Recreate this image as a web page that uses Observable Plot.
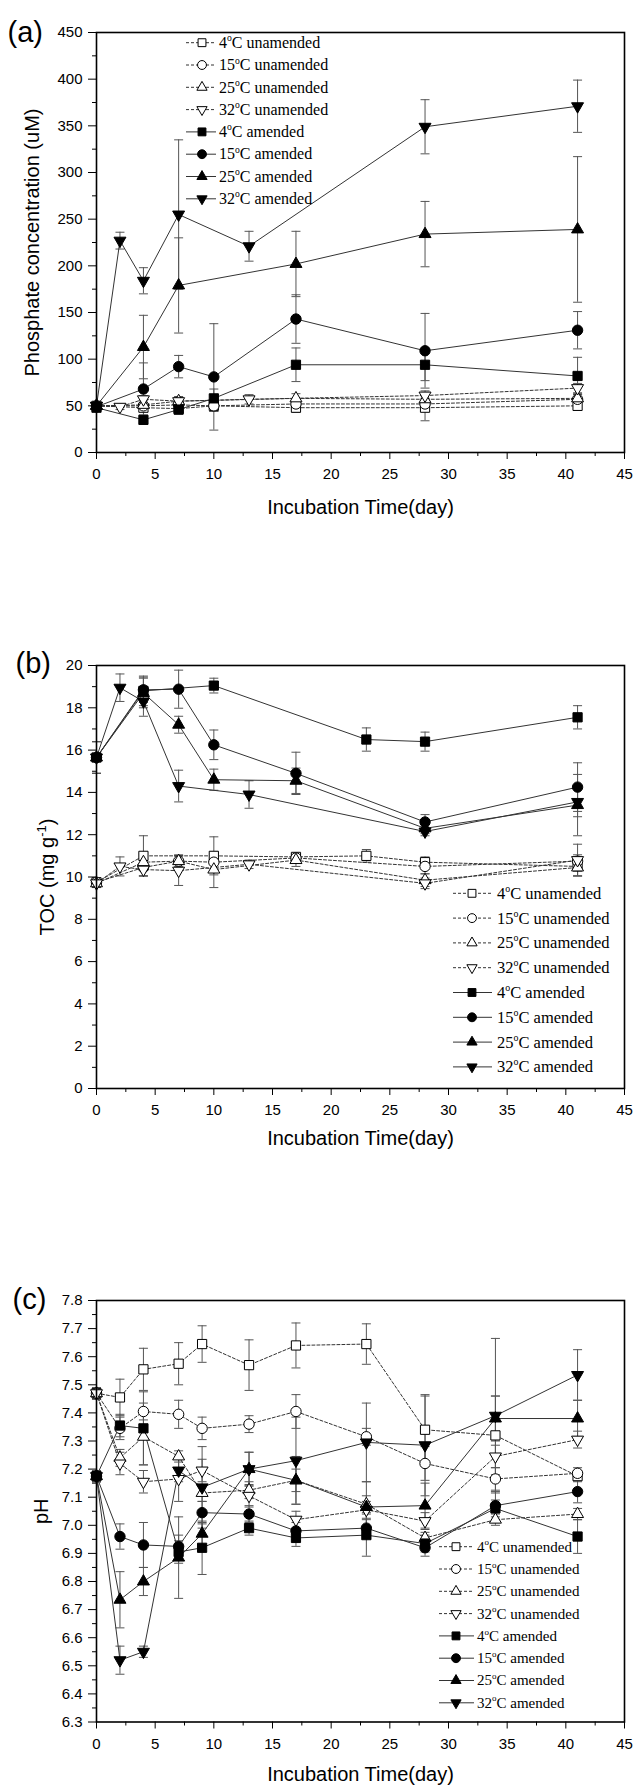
<!DOCTYPE html>
<html><head><meta charset="utf-8">
<script src="https://cdn.jsdelivr.net/npm/d3@7"></script>
<script src="https://cdn.jsdelivr.net/npm/@observablehq/plot@0.6"></script>
<style>
body{margin:0;background:#fff;}
#chart{width:637px;}
#chart svg{display:block;}
</style></head><body><div id="chart"></div>
<script>
// ---------- shared categories & ticks ----------
const seriesNames = ["4°C unamended","15°C unamended","25°C unamended","32°C unamended",
                     "4°C amended","15°C amended","25°C amended","32°C amended"];
const xTicks = [0,5,10,15,20,25,30,35,40,45];
const phosphateTicks = [0,50,100,150,200,250,300,350,400,450];
const tocTicks = [0,2,4,6,8,10,12,14,16,18,20];
const phTicks = [6.3,6.4,6.5,6.6,6.7,6.8,6.9,7.0,7.1,7.2,7.3,7.4,7.5,7.6,7.7,7.8];

// ---------- (a) phosphate (uM) ----------
const phosphateDays = [
  [0,4,7,10,17,28,41],
  [0,4,7,10,17,28,41],
  [0,4,7,17,28,41],
  [0,2,4,7,13,28,41],
  [0,4,7,10,17,28,41],
  [0,4,7,10,17,28,41],
  [0,4,7,17,28,41],
  [0,2,4,7,13,28,41]
];
const phosphateMean = [
  [50,48,47,50,48,48,50],
  [50,50,51,50,52,52,57],
  [50,51,55,58,57,58],
  [50,49,57,55,57,61,69],
  [48,35,46,58,94,94,82],
  [49,68,92,81,143,109,131],
  [50,113,179,202,234,239],
  [50,227,184,255,221,349,371]
];
const phosphateErr = [
  [3,4,4,6,5,14,5],
  [3,4,4,6,4,6,5],
  [3,5,5,5,6,5],
  [3,3,4,4,5,5,5],
  [3,5,5,10,18,17,20],
  [3,28,12,57,26,40,20],
  [3,34,51,35,35,78],
  [3,9,14,80,16,29,28]
];

// ---------- (b) TOC (mg/g) ----------
const tocDays = [
  [0,4,10,17,23,28,41],
  [0,4,7,10,17,28,41],
  [0,4,7,10,17,28,41],
  [0,2,4,7,13,28,41],
  [0,4,10,23,28,41],
  [0,4,7,10,17,28,41],
  [0,4,7,10,17,28,41],
  [0,2,4,7,13,28,41]
];
const tocMean = [
  [9.75,11.0,11.0,10.95,11.0,10.7,10.5],
  [9.75,10.45,10.75,10.7,10.9,10.5,10.75],
  [9.7,10.7,10.75,10.35,10.8,9.85,10.45],
  [9.7,10.5,10.35,10.3,10.6,9.7,10.8],
  [15.65,18.8,19.05,16.5,16.4,17.55],
  [15.65,18.85,18.88,16.25,14.9,12.6,14.25],
  [15.65,18.7,17.2,14.6,14.55,12.3,13.4],
  [15.65,18.95,18.3,14.3,13.9,12.15,13.55]
];
const tocErr = [
  [0.2,0.95,0.9,0.15,0.3,0.25,0.45],
  [0.2,0.4,0.25,0.4,0.15,0.35,0.3],
  [0.2,0.4,0.3,0.85,0.3,0.3,0.4],
  [0.15,0.45,0.3,0.7,0.2,0.25,0.75],
  [0.75,0.7,0.35,0.55,0.45,0.55],
  [0.75,0.6,0.9,0.7,1.0,0.35,1.15],
  [0.75,0.7,0.4,0.5,0.6,0.25,1.45],
  [0.75,0.65,0.7,0.75,0.65,0.2,0.7]
];

// ---------- (c) pH ----------
const phDays = [0,2,4,7,9,13,17,23,28,34,41];
const phMean = [
  [7.47,7.455,7.555,7.575,7.645,7.57,7.64,7.645,7.34,7.32,7.175],
  [7.47,7.345,7.405,7.395,7.345,7.36,7.405,7.315,7.22,7.165,7.185],
  [7.47,7.24,7.315,7.245,7.115,7.125,7.16,7.075,6.955,7.02,7.04],
  [7.47,7.22,7.155,7.165,7.195,7.105,7.02,7.055,7.015,7.245,7.305],
  [7.175,7.355,7.345,6.905,6.92,6.99,6.955,6.965,6.935,7.06,6.96],
  [7.175,6.96,6.93,6.925,7.045,7.04,6.98,6.99,6.92,7.07,7.12],
  [7.175,6.735,6.80,6.885,6.97,7.2,7.16,7.065,7.07,7.38,7.38],
  [7.175,6.52,6.55,7.195,7.135,7.2,7.23,7.295,7.285,7.39,7.535]
];
const phErr = [
  [0.02,0.065,0.075,0.075,0.065,0.09,0.08,0.072,0.12,0.14,0.02],
  [0.02,0.04,0.03,0.05,0.04,0.03,0.06,0.03,0.06,0.04,0.02],
  [0.02,0.03,0.1,0.02,0.03,0.03,0.04,0.03,0.02,0.02,0.02],
  [0.02,0.04,0.04,0.08,0.04,0.04,0.03,0.03,0.03,0.04,0.03],
  [0.02,0.04,0.13,0.04,0.095,0.025,0.03,0.075,0.03,0.03,0.06],
  [0.02,0.045,0.08,0.04,0.04,0.03,0.03,0.03,0.03,0.05,0.04],
  [0.02,0.1,0.05,0.145,0.04,0.06,0.085,0.09,0.08,0.08,0.065],
  [0.02,0.05,0.02,0.04,0.145,0.06,0.155,0.14,0.18,0.275,0.09]
];

// ---------- symbols ----------
const sqrt3 = Math.sqrt(3);
const triUp = {draw(ctx, size){ const s = Math.sqrt(size)*1.3, h = s*sqrt3/2;
  ctx.moveTo(0,-2*h/3); ctx.lineTo(s/2,h/3); ctx.lineTo(-s/2,h/3); ctx.closePath(); }};
const triDown = {draw(ctx, size){ const s = Math.sqrt(size)*1.3, h = s*sqrt3/2;
  ctx.moveTo(0,2*h/3); ctx.lineTo(s/2,-h/3); ctx.lineTo(-s/2,-h/3); ctx.closePath(); }};
const capSym = {draw(ctx){ ctx.moveTo(-4.5,0); ctx.lineTo(4.5,0); }};
const symbolRange = [d3.symbolSquare, d3.symbolCircle, triUp, triDown,
                     d3.symbolSquare, d3.symbolCircle, triUp, triDown];

const minorOf = t => d3.pairs(t, (a,b) => (a+b)/2);

function buildRows(days, means, errs){
  const rows = [];
  seriesNames.forEach((name,i) => {
    const ds = Array.isArray(days[0]) ? days[i] : days;
    ds.forEach((d,j) => rows.push({series:name, amended:i>=4, day:d, value:means[i][j], err:errs[i][j]}));
  });
  return rows;
}

function drawLegend(svg, L){
  const g = d3.select(svg).append("g")
    .attr("font-family","'Liberation Serif', 'Times New Roman', serif")
    .attr("font-size", L.font).attr("fill","black").attr("text-anchor","start");
  seriesNames.forEach((name,i) => {
    const y = L.y0 + i*L.dy, amended = i>=4;
    g.append("line").attr("x1",L.x0).attr("x2",L.x1).attr("y1",y).attr("y2",y)
      .attr("stroke","#333").attr("stroke-width",1)
      .attr("stroke-dasharray", amended ? null : "3,2");
    g.append("path").attr("transform",`translate(${L.xm},${y})`)
      .attr("d", d3.symbol(symbolRange[i], 62)())
      .attr("fill", amended ? "black" : "white").attr("stroke","black").attr("stroke-width",1);
    const [temp, rest] = name.split("°C");
    const t = g.append("text").attr("x",L.xt).attr("y",y).attr("dy","0.33em").attr("text-anchor","start");
    t.append("tspan").text(temp);
    t.append("tspan").text("o").attr("font-size", L.font*0.6).attr("dy", -L.font*0.42);
    t.append("tspan").text("C" + rest).attr("dy", L.font*0.42);
  });
}

function panel(cfg){
  const rows = buildRows(cfg.days, cfg.means, cfg.errs);
  const svg = Plot.plot({
    width: 637, height: cfg.height,
    marginLeft: 96, marginRight: 13, marginTop: cfg.mt, marginBottom: cfg.mb,
    style: {fontFamily: "'Liberation Sans', Arial, sans-serif", fontSize: "15px", color: "black", background: "white"},
    x: {domain: [0,45]},
    y: {domain: cfg.yDomain},
    symbol: {domain: seriesNames, range: symbolRange},
    color: {type: "identity"},
    marks: [
      Plot.axisX(xTicks, {tickSize: 7, tickPadding: 9, label: null, fontSize: 15}),
      Plot.axisX(minorOf(xTicks), {tickSize: 4, tickFormat: () => "", label: null}),
      Plot.axisY(cfg.yTicks, {tickSize: 8, tickPadding: 6, label: null, fontSize: 15, tickFormat: cfg.fmt}),
      Plot.axisY(minorOf(cfg.yTicks), {tickSize: 4, tickFormat: () => "", label: null}),
      Plot.ruleX(rows, {x: "day", y1: d => d.value - d.err, y2: d => d.value + d.err, stroke: "#555", strokeWidth: 1}),
      Plot.dot(rows, {x: "day", y: d => d.value + d.err, symbol: capSym, fill: "none", stroke: "#555", strokeWidth: 1}),
      Plot.dot(rows, {x: "day", y: d => d.value - d.err, symbol: capSym, fill: "none", stroke: "#555", strokeWidth: 1}),
      Plot.line(rows.filter(d => !d.amended), {x: "day", y: "value", z: "series", stroke: "#333", strokeWidth: 1, strokeDasharray: "3,2"}),
      Plot.line(rows.filter(d => d.amended), {x: "day", y: "value", z: "series", stroke: "#333", strokeWidth: 1}),
      Plot.dot(rows, {x: "day", y: "value", symbol: "series", fill: d => d.amended ? "black" : "white", stroke: "black", strokeWidth: 1, r: 5.2}),
      Plot.frame({stroke: "black", strokeWidth: 1.6}),
      Plot.text([cfg.xLabel], {text: d => d, frameAnchor: "bottom", dy: cfg.xTitleDy, textAnchor: "middle", lineAnchor: "middle", fontSize: 20}),
      Plot.text([cfg.yLabel], {text: d => d, frameAnchor: "left", dx: cfg.yTitleDx, rotate: -90, textAnchor: "middle", lineAnchor: "middle", fontSize: 20}),
      Plot.text([cfg.tag], {text: d => d, frameAnchor: "top-left", dx: cfg.tagDx, dy: cfg.tagDy, textAnchor: "start", lineAnchor: "middle", fontSize: 29})
    ]
  });
  drawLegend(svg, cfg.legend);
  return svg;
}

const chart = document.getElementById("chart");

chart.appendChild(panel({
  days: phosphateDays, means: phosphateMean, errs: phosphateErr,
  height: 600, mt: 32, mb: 148, yDomain: [0,450], yTicks: phosphateTicks, fmt: d3.format("d"),
  xLabel: "Incubation Time(day)", yLabel: "Phosphate concentration (uM)", tag: "(a)",
  xTitleDy: 55, yTitleDx: -64, tagDx: -89, tagDy: 0,
  legend: {x0: 186, x1: 216, xm: 202, xt: 219, y0: 42.7, dy: 22.3, font: 16}
}));

const svgB = panel({
  days: tocDays, means: tocMean, errs: tocErr,
  height: 620, mt: 65, mb: 132, yDomain: [0,20], yTicks: tocTicks, fmt: d3.format("d"),
  xLabel: "Incubation Time(day)", yLabel: "TOC (mg g-1)", tag: "(b)",
  xTitleDy: 50, yTitleDx: -49, tagDx: -81, tagDy: -2,
  legend: {x0: 453, x1: 492, xm: 472, xt: 497, y0: 293.3, dy: 24.8, font: 16.5}
});
chart.appendChild(svgB);
// superscript in the TOC unit
d3.select(svgB).selectAll("text").filter(function(){ return this.textContent === "TOC (mg g-1)"; })
  .each(function(){
    const t = d3.select(this); t.text(null);
    t.append("tspan").text("TOC (mg g");
    t.append("tspan").text("-1").attr("font-size", 13).attr("dy", -8);
    t.append("tspan").text(")").attr("dy", 8);
  });

chart.appendChild(panel({
  days: phDays, means: phMean, errs: phErr,
  height: 565, mt: 80, mb: 63.5, yDomain: [6.3,7.8], yTicks: phTicks, fmt: d3.format(".1f"),
  xLabel: "Incubation Time(day)", yLabel: "pH", tag: "(c)",
  xTitleDy: 53, yTitleDx: -55, tagDx: -84, tagDy: -1,
  legend: {x0: 439, x1: 474, xm: 456, xt: 477, y0: 326.7, dy: 22.3, font: 15}
}));
</script></body></html>
